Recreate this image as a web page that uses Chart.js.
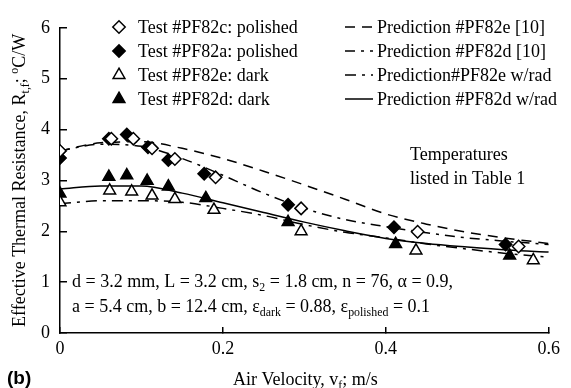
<!DOCTYPE html>
<html><head><meta charset="utf-8">
<script src="https://cdn.jsdelivr.net/npm/chart.js@4/dist/chart.umd.min.js"></script>
<style>html,body{margin:0;padding:0;background:#fff}</style>
</head><body>
<canvas id="c" width="571" height="388"></canvas>
<script>
// ---- data ----
const xTickValues = [0, 0.2, 0.4, 0.6];
const xTickLabels = ['0', '0.2', '0.4', '0.6'];
const yTickValues = [0, 1, 2, 3, 4, 5, 6];

const vPF82c = [0, 0.063, 0.090, 0.113, 0.141, 0.191, 0.296, 0.439, 0.563];
const rPF82c = [3.58, 3.82, 3.82, 3.63, 3.42, 3.06, 2.45, 1.99, 1.70];

const vPF82a = [0, 0.060, 0.082, 0.108, 0.133, 0.177, 0.280, 0.410, 0.547];
const rPF82a = [3.44, 3.82, 3.90, 3.65, 3.40, 3.13, 2.52, 2.08, 1.74];

const vPF82e = [0, 0.061, 0.088, 0.113, 0.141, 0.189, 0.296, 0.437, 0.581];
const rPF82e = [2.57, 2.80, 2.78, 2.70, 2.63, 2.42, 2.00, 1.62, 1.43];

const vPF82d = [0, 0.060, 0.082, 0.107, 0.133, 0.179, 0.280, 0.412, 0.552];
const rPF82d = [2.74, 3.07, 3.10, 2.99, 2.88, 2.65, 2.18, 1.75, 1.52];

const predV = [0, 0.05, 0.1, 0.15, 0.2, 0.25, 0.3, 0.35, 0.4, 0.45, 0.5, 0.55, 0.6];
const predPF82e10 = [3.58, 3.74, 3.76, 3.63, 3.43, 3.18, 2.91, 2.63, 2.34, 2.14, 1.98, 1.86, 1.76];
const predPF82d10 = [3.58, 3.71, 3.67, 3.43, 3.10, 2.75, 2.45, 2.23, 2.09, 1.97, 1.87, 1.80, 1.74];
const predPF82eRad = [2.54, 2.60, 2.60, 2.57, 2.45, 2.31, 2.13, 1.98, 1.87, 1.75, 1.65, 1.56, 1.49];
const predPF82dRad = [2.83, 2.89, 2.89, 2.75, 2.56, 2.37, 2.18, 2.01, 1.86, 1.76, 1.69, 1.63, 1.59];

const testLabels = ['Test #PF82c: polished', 'Test #PF82a: polished', 'Test #PF82e: dark', 'Test #PF82d: dark'];
const predLabels = ['Prediction #PF82e [10]', 'Prediction #PF82d [10]', 'Prediction#PF82e w/rad', 'Prediction #PF82d w/rad'];

// ---- build ----
const pts = (xs, ys) => xs.map((x, i) => ({x, y: ys[i]}));
const SERIF = '"Liberation Serif", "Times New Roman", serif';

function markerDs(label, xs, ys, style, filled) {
  return {
    label, data: pts(xs, ys), showLine: false, order: 0,
    pointStyle: style, pointRadius: style === 'triangle' ? 6.8 : 6.2,
    pointHoverRadius: 6,
    backgroundColor: filled ? '#000' : '#fff', borderColor: '#000', borderWidth: 1.5
  };
}
function lineDs(label, ys, dash) {
  return {
    label, data: pts(predV, ys), showLine: true, order: 1, pointRadius: 0,
    borderColor: '#000', borderWidth: 1.5, borderDash: dash,
    cubicInterpolationMode: 'monotone', fill: false
  };
}

const datasets = [
  markerDs(testLabels[0], vPF82c, rPF82c, 'rectRot', false),
  markerDs(testLabels[1], vPF82a, rPF82a, 'rectRot', true),
  markerDs(testLabels[2], vPF82e, rPF82e, 'triangle', false),
  markerDs(testLabels[3], vPF82d, rPF82d, 'triangle', true),
  lineDs(predLabels[0], predPF82e10, [10, 7]),
  lineDs(predLabels[1], predPF82d10, [10, 6, 3, 6]),
  lineDs(predLabels[2], predPF82eRad, [11, 6, 3, 6]),
  lineDs(predLabels[3], predPF82dRad, [])
];

function richText(ctx, runs, x, y, size) {
  let cx = x;
  for (const [t, k] of runs) {
    let fs = size, dy = 0;
    if (k === 'sub') { fs = size * 0.66; dy = size * 0.22; }
    if (k === 'sup') { fs = size * 0.66; dy = -size * 0.4; }
    ctx.font = fs + 'px ' + SERIF;
    ctx.fillText(t, cx, y + dy);
    cx += ctx.measureText(t).width;
  }
  return cx - x;
}

const annotate = {
  id: 'annotate',
  afterDraw(chart) {
    const ctx = chart.ctx;
    ctx.save();
    ctx.fillStyle = '#000';
    ctx.strokeStyle = '#000';
    ctx.textBaseline = 'alphabetic';
    ctx.textAlign = 'left';
    const rows = [33, 57, 81, 105];
    // legend: markers
    for (let i = 0; i < 4; i++) {
      const ds = chart.data.datasets[i];
      ctx.fillStyle = ds.backgroundColor; ctx.strokeStyle = ds.borderColor; ctx.lineWidth = ds.borderWidth;
      Chart.helpers.drawPoint(ctx, {pointStyle: ds.pointStyle, radius: ds.pointRadius, rotation: 0, borderWidth: ds.borderWidth}, 119, rows[i] - 6);
      ctx.fillStyle = '#000';
      ctx.font = '18px ' + SERIF;
      ctx.fillText(ds.label, 138, rows[i]);
    }
    // legend: lines
    for (let i = 0; i < 4; i++) {
      const ds = chart.data.datasets[4 + i];
      ctx.strokeStyle = '#000'; ctx.lineWidth = 1.5;
      ctx.setLineDash(ds.borderDash);
      ctx.beginPath(); ctx.moveTo(345, rows[i] - 6); ctx.lineTo(373, rows[i] - 6); ctx.stroke();
      ctx.setLineDash([]);
      ctx.font = '18px ' + SERIF;
      ctx.fillText(ds.label, 377, rows[i]);
    }
    // notes
    ctx.font = '18px ' + SERIF;
    ctx.fillText('Temperatures', 410, 160);
    ctx.fillText('listed in Table 1', 410, 184);
    richText(ctx, [['d = 3.2 mm, L = 3.2 cm, s', 'n'], ['2', 'sub'], [' = 1.8 cm, n = 76, \u03b1 = 0.9,', 'n']], 72, 287, 18);
    richText(ctx, [['a = 5.4 cm, b = 12.4 cm, \u03b5', 'n'], ['dark', 'sub'], [' = 0.88, \u03b5', 'n'], ['polished', 'sub'], [' = 0.1', 'n']], 72, 312, 18);
    // x title
    richText(ctx, [['Air Velocity, v', 'n'], ['f', 'sub'], ['; m/s', 'n']], 233, 385, 18);
    // y title
    ctx.save();
    ctx.translate(25, 327);
    ctx.rotate(-Math.PI / 2);
    richText(ctx, [['Effective Thermal Resistance, R', 'n'], ['t,f', 'sub'], ['; ', 'n'], ['o', 'sup'], ['C/W', 'n']], 0, 0, 18);
    ctx.restore();
    // panel label
    ctx.font = 'bold 19px "Liberation Sans", Arial, sans-serif';
    ctx.fillText('(b)', 7, 384);
    ctx.restore();
  }
};

new Chart(document.getElementById('c'), {
  type: 'line',
  data: {datasets},
  options: {
    responsive: false,
    animation: false,
    events: [],
    layout: {padding: {left: 0, top: 19, right: 13, bottom: 0}},
    plugins: {legend: {display: false}, tooltip: {enabled: false}},
    scales: {
      x: {
        type: 'linear', min: 0, max: 0.6,
        afterBuildTicks: s => { s.ticks = xTickValues.map(v => ({value: v})); },
        afterFit: s => { s.height = 55; },
        ticks: {
          callback: (v, i) => xTickLabels[i],
          color: '#000', font: {family: SERIF, size: 18}, padding: 11, maxRotation: 0
        },
        grid: {display: true, drawOnChartArea: false, drawTicks: true, tickLength: -6, color: '#000', lineWidth: 1.5},
        border: {display: true, color: '#000', width: 1.5}
      },
      y: {
        type: 'linear', min: 0, max: 6,
        afterBuildTicks: s => { s.ticks = yTickValues.map(v => ({value: v})); },
        afterFit: s => { s.width = 60; },
        ticks: {
          callback: v => String(v),
          color: '#000', font: {family: SERIF, size: 18}, padding: 17
        },
        grid: {display: true, drawOnChartArea: false, drawTicks: true, tickLength: -7, color: '#000', lineWidth: 1.5},
        border: {display: true, color: '#000', width: 1.5}
      }
    }
  },
  plugins: [annotate]
});
</script>
</body></html>
